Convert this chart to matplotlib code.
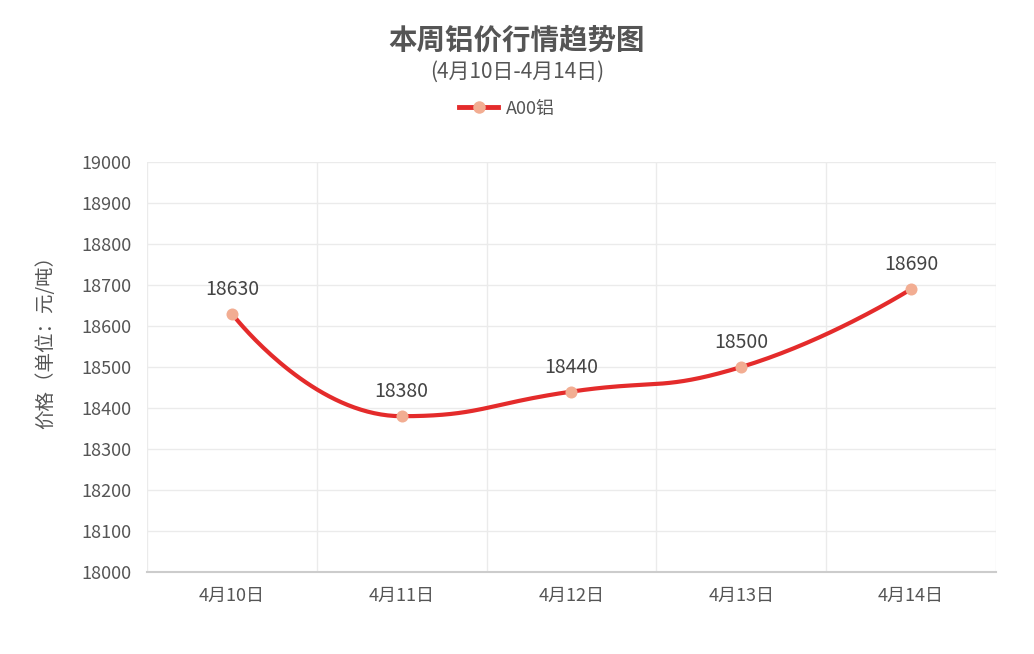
import numpy as np
import matplotlib.pyplot as plt
from matplotlib.lines import Line2D

plt.rcParams['font.family'] = ['Noto Sans CJK SC', 'DejaVu Sans']

# data
dates = ['4月10日', '4月11日', '4月12日', '4月13日', '4月14日']
prices = [18630, 18380, 18440, 18500, 18690]
series_name = 'A00铝'

line_color = '#e42b2b'
marker_color = '#f2ad92'
text_color = '#555555'
grid_color = '#ebebeb'


def smooth_curve(xs, ys, sx, sy, smooth=0.5, n=40):
    # echarts-like bezier smoothing with control point clamping
    px = np.asarray(xs, float) * sx
    py = np.asarray(ys, float) * sy
    cps = []
    for i in range(len(px)):
        if i == 0 or i == len(px) - 1:
            cps.append(((px[i], py[i]), (px[i], py[i])))
            continue
        x, y = px[i], py[i]
        vx, vy = px[i + 1] - px[i - 1], py[i + 1] - py[i - 1]
        l0 = np.hypot(x - px[i - 1], y - py[i - 1])
        l1 = np.hypot(px[i + 1] - x, py[i + 1] - y)
        r = l1 / (l0 + l1)
        nx = x + vx * smooth * r
        ny = y + vy * smooth * r
        nx = min(max(nx, min(px[i + 1], x)), max(px[i + 1], x))
        ny = min(max(ny, min(py[i + 1], y)), max(py[i + 1], y))
        vx, vy = nx - x, ny - y
        cx0 = x - vx * l0 / l1
        cy0 = y - vy * l0 / l1
        cx0 = min(max(cx0, min(px[i - 1], x)), max(px[i - 1], x))
        cy0 = min(max(cy0, min(py[i - 1], y)), max(py[i - 1], y))
        vx, vy = x - cx0, y - cy0
        nx = x + vx * l1 / l0
        ny = y + vy * l1 / l0
        cps.append(((cx0, cy0), (nx, ny)))
    out_x, out_y = [], []
    t = np.linspace(0, 1, n)
    for i in range(len(px) - 1):
        p0 = np.array([px[i], py[i]])
        p1 = np.array(cps[i][1])
        p2 = np.array(cps[i + 1][0])
        p3 = np.array([px[i + 1], py[i + 1]])
        b = ((1 - t) ** 3)[:, None] * p0 + (3 * (1 - t) ** 2 * t)[:, None] * p1 \
            + (3 * (1 - t) * t ** 2)[:, None] * p2 + (t ** 3)[:, None] * p3
        out_x.extend(b[:, 0])
        out_y.extend(b[:, 1])
    return np.array(out_x) / sx, np.array(out_y) / sy


fig = plt.figure(figsize=(10.34, 6.54), dpi=100)
ax = fig.add_axes([0.1422, 0.1254, 0.8210, 0.6269])

x = np.arange(len(dates))
cx, cy = smooth_curve(x, prices, 170.0, 0.41)
ax.plot(cx, cy, color=line_color, lw=3, solid_capstyle='round', zorder=3)
ax.scatter(x, prices, s=75, color=marker_color, zorder=4, linewidths=0)

for xi, p in zip(x, prices):
    ax.annotate(str(p), (xi, p), xytext=(0, 10), textcoords='offset points',
                ha='center', va='bottom', fontsize=14, color='#444444')

ax.set_xlim(-0.5, len(dates) - 0.5)
ax.set_ylim(18000, 19000)
ax.set_yticks(np.arange(18000, 19001, 100))
ax.set_xticks(x)
ax.set_xticklabels(dates)
ax.set_xticks(np.arange(-0.5, len(dates), 1), minor=True)

ax.grid(axis='y', color=grid_color, lw=1)
ax.grid(axis='x', which='minor', color=grid_color, lw=1)
ax.set_axisbelow(True)
for s in ['top', 'right', 'left']:
    ax.spines[s].set_visible(False)
ax.spines['bottom'].set_color('#cccccc')
ax.spines['bottom'].set_linewidth(1.5)
ax.tick_params(axis='both', which='both', length=0, labelsize=13, labelcolor=text_color)
ax.tick_params(axis='y', pad=11)
ax.tick_params(axis='x', pad=11)

fig.text(46 / 1034, 1 - 337 / 654, '价格（单位：元/吨）', rotation=90,
         ha='center', va='center', fontsize=14, color=text_color)

fig.text(0.5, 0.937, '本周铝价行情趋势图', ha='center', va='center',
         fontsize=20.5, fontweight='bold', color=text_color)
fig.text(0.5, 0.890, '(4月10日-4月14日)', ha='center', va='center',
         fontsize=15, color=text_color)

handle = Line2D([], [], color=line_color, lw=3.5, marker='o', markersize=9,
                markerfacecolor=marker_color, markeredgewidth=0)
fig.legend([handle], [series_name], loc='center', bbox_to_anchor=(0.49, 0.834),
           frameon=False, fontsize=13, handlelength=2.2, handletextpad=0.4,
           labelcolor=text_color)

fig.savefig('out.png', dpi=100)
